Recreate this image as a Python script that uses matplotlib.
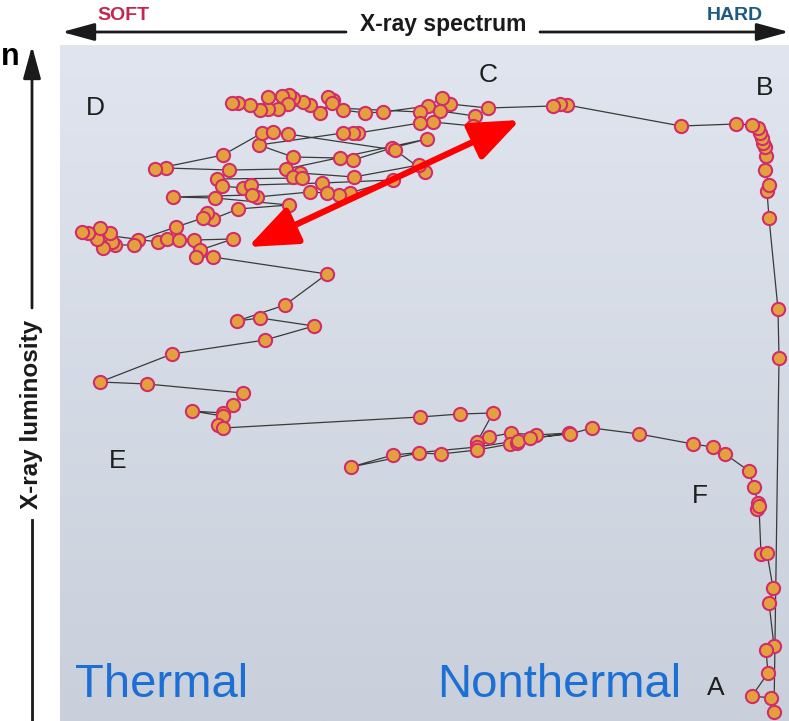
import numpy as np
import matplotlib.pyplot as plt

# track (spectral hardness, luminosity), in picture units
hardness = [774, 779, 778, 769, 767, 769, 765, 766, 765, 763, 762, 760, 758, 752, 736, 681,
            567, 560, 553, 488,
            450, 442, 428, 383, 365, 343, 333, 328, 332, 320, 310, 303, 293, 289, 282, 288,
            278, 268, 268, 260, 250, 238, 232,
            420, 440, 475, 473, 433, 420,
            358, 353, 343, 259, 293, 340, 353, 392, 427,
            286, 229, 166, 155, 223, 262, 273, 288, 395,
            425, 419, 354, 300, 293, 302, 217, 222, 243, 251, 322, 393, 350, 339, 327, 310,
            257, 252, 173, 215, 289, 238, 213, 207, 203, 176, 138, 134, 115, 112, 110, 103,
            97, 100, 88, 82, 158, 167, 179, 194, 233, 200, 196, 213,
            327, 285, 237, 260, 314, 265, 172, 100, 147, 243, 233, 223, 192, 223, 218, 223,
            420, 460, 493, 477, 489, 511, 536, 569, 477, 393, 351, 419, 441, 477, 510, 517,
            518, 530, 570, 592, 639, 693, 713, 725, 749, 754, 758, 757, 759, 761, 767, 773,
            769, 774, 766, 768, 752, 771]
luminosity = [712, 358, 309, 218, 191, 185, 170, 156, 147, 143, 138, 133, 128, 125, 124, 126,
              105, 104, 106, 108,
              104, 98, 106, 112, 113, 110, 100, 97, 103, 113, 105, 102, 98, 95, 96, 104,
              109, 109, 97, 110, 105, 103, 103,
              112, 111, 116, 126, 122, 123,
              133, 133, 133, 145, 157, 158, 160, 148, 139,
              169, 170, 168, 169, 155, 133, 132, 134, 150,
              172, 165, 177, 173, 177, 178, 179, 186, 188, 185, 183, 180, 193, 195, 193, 192,
              197, 195, 197, 198, 205, 209, 219, 213, 218, 227, 240, 245, 245, 242, 233, 248,
              239, 228, 233, 232, 242, 239, 240, 240, 239, 250, 257, 257,
              274, 305, 321, 318, 326, 340, 354, 382, 384, 393, 405, 413, 411, 416, 425, 428,
              417, 414, 413, 442, 437, 433, 435, 433, 447, 455, 467, 453, 454, 450, 444, 443,
              441, 438, 434, 428, 434, 444, 447, 454, 471, 487, 503, 509, 506, 554, 553, 588,
              603, 646, 650, 673, 696, 698]

state_labels = ['A', 'B', 'C', 'D', 'E', 'F']
label_x = [716, 765, 488, 95, 118, 700]
label_y = [688, 88, 75, 108, 461, 496]

fig = plt.figure(figsize=(7.89, 7.21), dpi=100)
fig.patch.set_facecolor('white')

ax = fig.add_axes([60 / 789, 0, 729 / 789, 676 / 721])
ax.set_xlim(60, 789)
ax.set_ylim(721, 45)
ax.axis('off')

# soft blue-grey background
top = np.array([224, 229, 239]) / 255
bot = np.array([201, 208, 219]) / 255
t = np.linspace(0, 1, 256)[:, None]
grad = (top[None, :] * (1 - t) + bot[None, :] * t)[:, None, :]
ax.imshow(grad, extent=[60, 789, 721, 45], aspect='auto', origin='upper', zorder=0)

ax.plot(hardness, luminosity, color='#3a3a3a', lw=0.9, zorder=2,
        marker='o', markersize=9.5, markerfacecolor='#e3a03c',
        markeredgecolor='#d02d6a', markeredgewidth=1.5)

for lab, x, y in zip(state_labels, label_x, label_y):
    ax.text(x, y, lab, fontsize=19, family='Liberation Sans', color='#1e1e1e',
            ha='center', va='center', zorder=3)

ax.annotate('', xy=(248, 247), xytext=(520, 120),
            arrowprops=dict(arrowstyle='<|-|>,head_length=1.5,head_width=0.6',
                            color='#ff0000', lw=4.5, mutation_scale=20,
                            shrinkA=0, shrinkB=0), zorder=4)

ax.text(75, 697, 'Thermal', fontsize=34, family='Liberation Sans', color='#1c6fd4',
        ha='left', va='baseline', zorder=3)
ax.text(437, 697, 'Nonthermal', fontsize=34, family='Liberation Sans', color='#1c6fd4',
        ha='left', va='baseline', zorder=3)

# outer frame: spectrum and luminosity arrows
ov = fig.add_axes([0, 0, 1, 1])
ov.set_xlim(0, 789)
ov.set_ylim(721, 0)
ov.axis('off')
ov.patch.set_alpha(0)

arrow = dict(arrowstyle='-|>,head_length=1.1,head_width=0.3', color='#1a1a1a',
             lw=2, mutation_scale=18, shrinkA=0, shrinkB=0)
ov.annotate('', xy=(62, 32), xytext=(346, 32), arrowprops=arrow)
ov.annotate('', xy=(789, 32), xytext=(540, 32), arrowprops=arrow)
ov.text(443, 25, 'X-ray spectrum', fontsize=16.5, fontweight='bold',
        family='Liberation Sans', color='#1a1a1a', ha='center', va='center')
ov.text(123, 16, 'SOFT', fontsize=14, fontweight='bold', family='Liberation Sans',
        color='#c4264f', ha='center', va='center')
ov.text(735, 16, 'HARD', fontsize=14, fontweight='bold', family='Liberation Sans',
        color='#1d5a82', ha='center', va='center')

ov.annotate('', xy=(32, 46), xytext=(32, 308), arrowprops=arrow)
ov.plot([32, 32], [520, 721], color='#1a1a1a', lw=2)
ov.text(32, 414, 'X-ray luminosity', fontsize=17.5, fontweight='bold',
        family='Liberation Sans', color='#1a1a1a', rotation=90,
        ha='center', va='center')

# leftover letter from the neighbouring panel
ov.text(1, 65, 'n', fontsize=22, fontweight='bold', family='Liberation Sans',
        color='black', ha='left', va='baseline')

fig.savefig('out.png', dpi=100)
